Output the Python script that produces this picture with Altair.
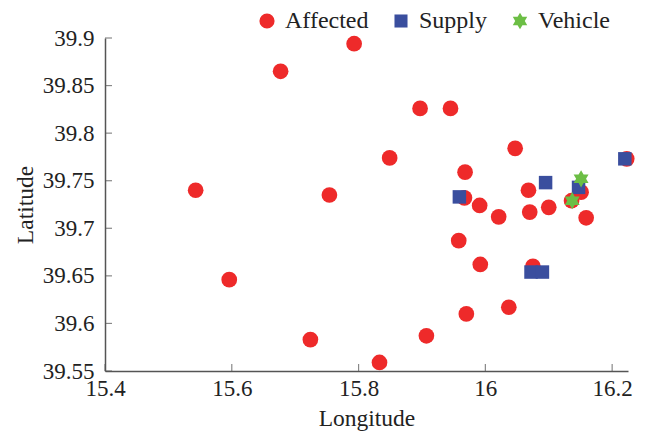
import altair as alt
import pandas as pd

affected_lon = [15.793, 15.677, 15.897, 15.945, 15.849, 15.968, 15.543, 15.754, 15.967,
                16.047, 16.068, 15.991, 16.021, 16.070, 16.100, 16.136, 16.151, 16.159,
                16.223, 15.958, 15.992, 16.075, 15.596, 15.724, 15.833, 15.907, 15.970, 16.037]
affected_lat = [39.894, 39.865, 39.826, 39.826, 39.774, 39.759, 39.740, 39.735, 39.732,
                39.784, 39.740, 39.724, 39.712, 39.717, 39.722, 39.729, 39.738, 39.711,
                39.773, 39.687, 39.662, 39.660, 39.646, 39.583, 39.559, 39.587, 39.610, 39.617]
supply_lon = [15.959, 16.095, 16.147, 16.220, 16.072, 16.090]
supply_lat = [39.733, 39.748, 39.743, 39.773, 39.654, 39.654]
vehicle_lon = [16.151, 16.137]
vehicle_lat = [39.752, 39.729]

categories = ["Affected", "Supply", "Vehicle"]
colors = ["#EE2A2A", "#3A4E9E", "#6CBE45"]
x_ticks = [15.4, 15.6, 15.8, 16.0, 16.2]
y_ticks = [39.55, 39.6, 39.65, 39.7, 39.75, 39.8, 39.85, 39.9]

rows = []
for lo, la in zip(affected_lon, affected_lat):
    rows.append({"lon": lo, "lat": la, "type": "Affected", "o": 0})
for lo, la in zip(supply_lon, supply_lat):
    rows.append({"lon": lo, "lat": la, "type": "Supply", "o": 1})
for lo, la in zip(vehicle_lon, vehicle_lat):
    rows.append({"lon": lo, "lat": la, "type": "Vehicle", "o": 2})
df = pd.DataFrame(rows)

square_path = "M-0.86,-0.86H0.86V0.86H-0.86Z"
hexagram = ("M0,-1.1L0.3175,-0.55L0.9526,-0.55L0.6351,0L0.9526,0.55L0.3175,0.55L0,1.1"
            "L-0.3175,0.55L-0.9526,0.55L-0.6351,0L-0.9526,-0.55L-0.3175,-0.55Z")

FONT = "Liberation Serif"
FS = 23
xscale = alt.Scale(domain=[15.4, 16.225], nice=False, zero=False)
yscale = alt.Scale(domain=[39.55, 39.9], nice=False, zero=False)

xaxis = alt.Axis(values=x_ticks, title="Longitude", grid=False, tickSize=0, labelFlush=False,
                 labelFont=FONT, labelFontSize=FS, labelColor="#222", labelPadding=6,
                 titleFont=FONT, titleFontSize=23.5, titleFontWeight="normal", titleColor="#222",
                 titlePadding=6, domainColor="#555", domainWidth=1.5,
                 labelExpr="datum.value == 16 ? '16' : format(datum.value, '.1f')")
yaxis = alt.Axis(values=y_ticks, title="Latitude", grid=False, tickSize=0, labelFlush=False,
                 labelFont=FONT, labelFontSize=FS, labelColor="#222", labelPadding=11,
                 titleFont=FONT, titleFontSize=23.5, titleFontWeight="normal", titleColor="#222",
                 titlePadding=5, domainColor="#555", domainWidth=1.5,
                 labelExpr="replace(format(datum.value, '.2f'), /0$/, '')")

points = alt.Chart(df).mark_point(filled=True, opacity=1, size=246).encode(
    x=alt.X("lon:Q", scale=xscale, axis=xaxis),
    y=alt.Y("lat:Q", scale=yscale, axis=yaxis),
    color=alt.Color("type:N", scale=alt.Scale(domain=categories, range=colors),
                    legend=alt.Legend(title=None, orient="none", direction="horizontal",
                                      legendX=150, legendY=-29, labelFont=FONT,
                                      labelFontSize=24, labelColor="#222",
                                      symbolSize=230, columnPadding=20, labelOffset=6,
                                      symbolStrokeWidth=0)),
    shape=alt.Shape("type:N", scale=alt.Scale(domain=categories,
                                               range=["circle", square_path, hexagram])),
    order=alt.Order("o:Q"),
)

xt = pd.DataFrame({"v": x_ticks, "base": [39.55] * len(x_ticks)})
yt = pd.DataFrame({"v": y_ticks, "base": [15.4] * len(y_ticks)})

xtick_layer = alt.Chart(xt).mark_tick(orient="vertical", size=7, thickness=1.2,
                                      color="#555", yOffset=-3.5).encode(
    x=alt.X("v:Q", scale=xscale), y=alt.Y("base:Q", scale=yscale))
ytick_layer = alt.Chart(yt).mark_tick(orient="horizontal", size=7, thickness=1.2,
                                      color="#555", xOffset=3.5).encode(
    y=alt.Y("v:Q", scale=yscale), x=alt.X("base:Q", scale=xscale))

chart = alt.layer(xtick_layer, ytick_layer, points).properties(
    width=523, height=333, autosize="none",
    padding={"left": 97, "top": 30, "right": 12, "bottom": 61},
    background="white",
).configure_view(stroke=None)

chart.save("out.html", embed_options={"renderer": "svg", "actions": False})
